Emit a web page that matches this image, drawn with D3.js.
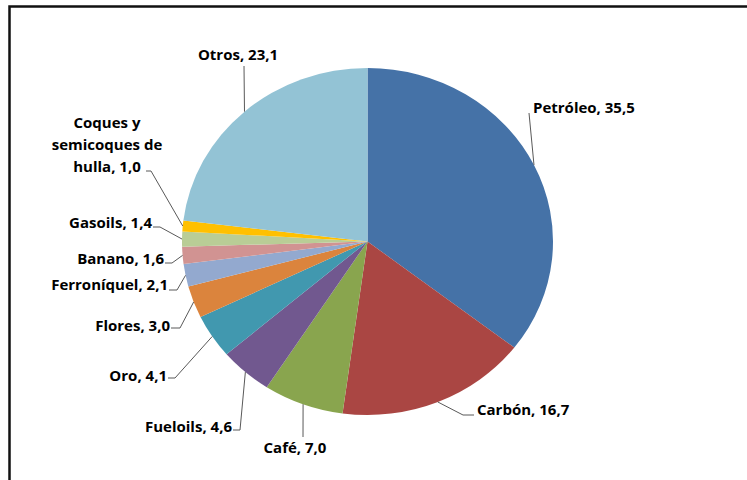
<!DOCTYPE html>
<html>
<head>
<meta charset="utf-8">
<script src="https://cdn.jsdelivr.net/npm/d3@7"></script>
<style>
  html, body { margin: 0; padding: 0; background: #fff; }
  svg { display: block; }
  text { font-family: "Open Sans", Lato, "Liberation Sans", sans-serif; font-weight: 700; fill: #000; }
</style>
</head>
<body>
<svg id="chart" width="747" height="480"></svg>
<script>
// Export shares (%) by product
const categories = ["Petróleo", "Carbón", "Café", "Fueloils", "Oro", "Flores",
                    "Ferroníquel", "Banano", "Gasoils", "Coques y semicoques de hulla", "Otros"];
const values = [35.5, 16.7, 7.0, 4.6, 4.1, 3.0, 2.1, 1.6, 1.4, 1.0, 23.1];
const labelLines = [["Petróleo, 35,5"], ["Carbón, 16,7"], ["Café, 7,0"], ["Fueloils, 4,6"],
                    ["Oro, 4,1"], ["Flores, 3,0"], ["Ferroníquel, 2,1"], ["Banano, 1,6"],
                    ["Gasoils, 1,4"], ["Coques y", "semicoques de", "hulla, 1,0"], ["Otros, 23,1"]];
const colors = ["#4572A7", "#AA4643", "#89A54E", "#71588F", "#4198AF", "#DB843D",
                "#93A9CF", "#D19392", "#B9CD96", "#FFC000", "#93C3D5"];

// Label placement: text anchor point, alignment, and leader elbow points
const labelLayout = [
  { x: 533, y: 113, anchor: "start",  elbow: [[529, 113]] },
  { x: 477, y: 415, anchor: "start",  elbow: [[474, 415], [463, 415]] },
  { x: 295, y: 453, anchor: "middle", elbow: [[303, 437]] },
  { x: 232, y: 432, anchor: "end",    elbow: [[233, 430], [240, 430]] },
  { x: 167, y: 381, anchor: "end",    elbow: [[168, 378], [175, 378]] },
  { x: 170, y: 331, anchor: "end",    elbow: [[171, 328], [180, 328]] },
  { x: 168, y: 290, anchor: "end",    elbow: [[169, 290], [177, 290]] },
  { x: 164, y: 264, anchor: "end",    elbow: [[165, 263], [172, 263]] },
  { x: 152, y: 228, anchor: "end",    elbow: [[153, 227], [160, 227]] },
  { x: 107, y: 128, anchor: "middle", elbow: [[146, 171], [151, 171]] },
  { x: 238, y: 60,  anchor: "middle", elbow: [[244, 66]] }
];

const svg = d3.select("#chart");

// Chart frame
svg.append("rect")
  .attr("x", 9.5).attr("y", 6.5)
  .attr("width", 760).attr("height", 500)
  .attr("fill", "none").attr("stroke", "#111").attr("stroke-width", 2.5);

const cx = 367.5, cy = 241.5, rx = 185.5, ry = 173.5;

const data = categories.map((c, i) => ({ name: c, value: values[i], i }));
const pie = d3.pie().value(d => d.value).sort(null);
const arcs = pie(data);
const arc = d3.arc().innerRadius(0).outerRadius(ry);

// Pie slices (drawn slightly wider than tall)
const g = svg.append("g")
  .attr("transform", `translate(${cx},${cy}) scale(${rx / ry},1)`);
g.selectAll("path")
  .data(arcs)
  .join("path")
  .attr("d", arc)
  .attr("fill", d => colors[d.data.i]);

// Point on the slice rim at its middle angle
function rimPoint(d) {
  const a = (d.startAngle + d.endAngle) / 2;
  return [cx + rx * Math.sin(a), cy - ry * Math.cos(a)];
}

// Leader lines
const line = d3.line();
svg.append("g").selectAll("path")
  .data(arcs)
  .join("path")
  .attr("d", d => line(labelLayout[d.data.i].elbow.concat([rimPoint(d)])))
  .attr("fill", "none")
  .attr("stroke", "#595959")
  .attr("stroke-width", 1);

// Labels
const labels = svg.append("g").selectAll("text")
  .data(arcs)
  .join("text")
  .attr("x", d => labelLayout[d.data.i].x)
  .attr("y", d => labelLayout[d.data.i].y)
  .attr("text-anchor", d => labelLayout[d.data.i].anchor)
  .style("font-size", "15px");
labels.selectAll("tspan")
  .data(d => labelLines[d.data.i].map((t, k) => ({ t, k, x: labelLayout[d.data.i].x })))
  .join("tspan")
  .attr("x", d => d.x)
  .attr("dy", d => d.k === 0 ? 0 : 22)
  .text(d => d.t);
</script>
</body>
</html>
